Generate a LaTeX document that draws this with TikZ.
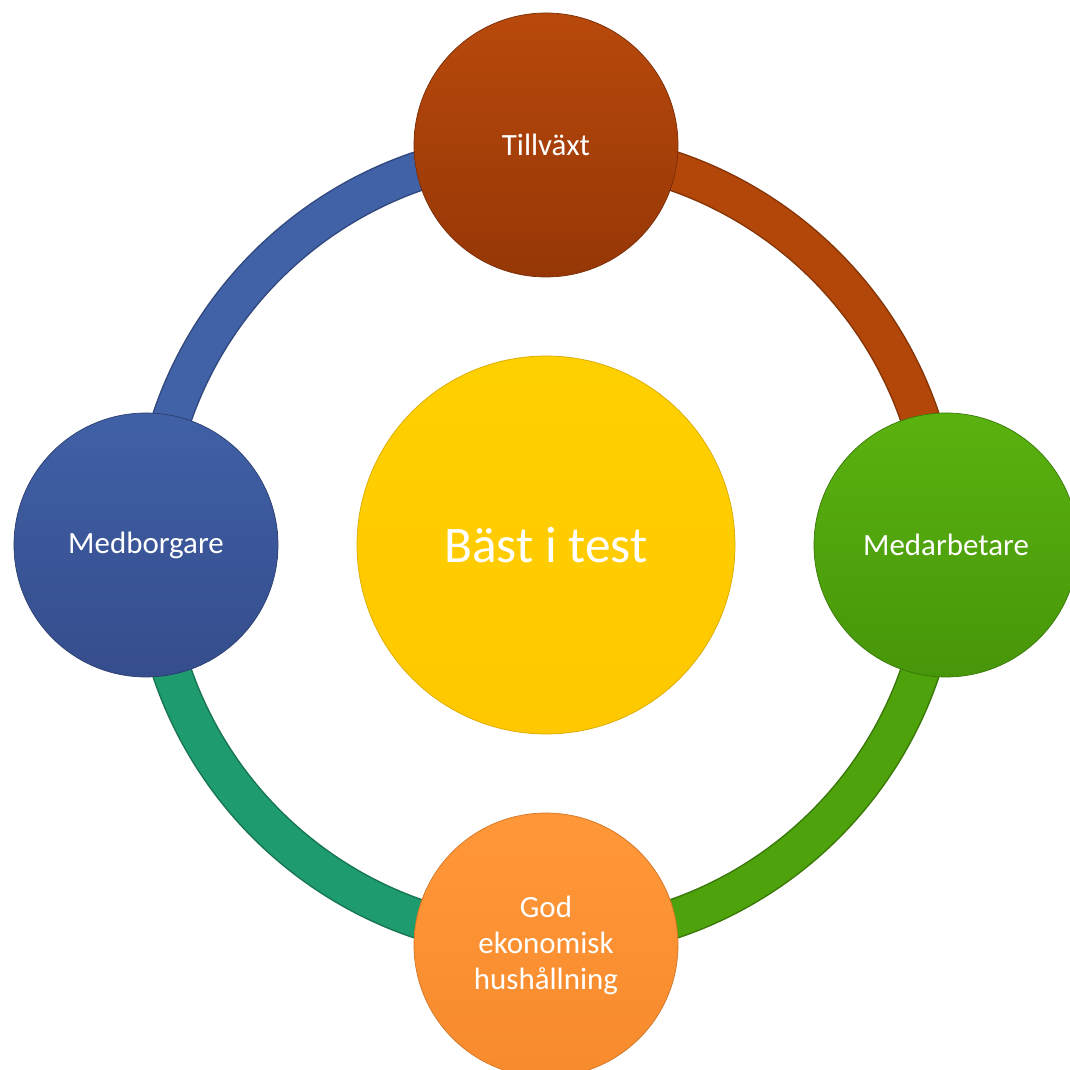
\documentclass[tikz,border=0pt]{standalone}
\usepackage{fontspec}
\setmainfont{Carlito}
\usepackage{xcolor}
\usepackage{tikz}
\usetikzlibrary{backgrounds}

\definecolor{brunTop}{HTML}{B8490B}
\definecolor{brunBot}{HTML}{963707}
\definecolor{blaTop}{HTML}{4060A6}
\definecolor{blaBot}{HTML}{354D8C}
\definecolor{gronTop}{HTML}{5AB20F}
\definecolor{gronBot}{HTML}{47960A}
\definecolor{oranTop}{HTML}{FF9738}
\definecolor{oranBot}{HTML}{F78B2E}
\definecolor{gulTop}{HTML}{FFD000}
\definecolor{gulBot}{HTML}{FFC800}
\definecolor{ringBla}{HTML}{4262A8}
\definecolor{ringBrun}{HTML}{B3470A}
\definecolor{ringGron}{HTML}{4EA20C}
\definecolor{ringTeal}{HTML}{1F9C6E}

\begin{document}
\begin{tikzpicture}[
    boll/.style={circle, minimum size=5.28cm, inner sep=0pt, text=white,
        align=center, font=\fontsize{17.6}{20.5}\selectfont},
    ring/.style={line width=0.74cm},
    ringkant/.style={line width=0.80cm}
]
    \useasboundingbox (-10.92,-10.5) rectangle (10.48,10.9);

    \node[boll, top color=gulTop, bottom color=gulBot, draw=gulBot!85!black,
        minimum size=7.56cm, font=\fontsize{29.2}{34}\selectfont] (bast) at (0,0) {Bäst i test};

    \node[boll, top color=brunTop, bottom color=brunBot, draw=brunBot!80!black] (tillvaxt) at (0,8) {Tillväxt};
    \node[boll, top color=gronTop, bottom color=gronBot, draw=gronBot!80!black] (medarb) at (8,0) {Medarbetare};
    \node[boll, top color=oranTop, bottom color=oranBot, draw=oranBot!85!black] (ekonomi) at (0,-8) {God\\ekonomisk\\hushållning};
    \node[boll, top color=blaTop, bottom color=blaBot, draw=blaBot!80!black] (medborg) at (-8,0) {Medborgare};

    \begin{scope}[on background layer]
    \draw[ringkant, ringBrun!75!black] (tillvaxt.center) ++(0,-0.1) arc[start angle=90, end angle=0, radius=7.9cm];
    \draw[ring, ringBrun] (tillvaxt.center) ++(0,-0.1) arc[start angle=90, end angle=0, radius=7.9cm];
    \draw[ringkant, ringGron!75!black] (medarb.center) ++(-0.1,0) arc[start angle=0, end angle=-90, radius=7.9cm];
    \draw[ring, ringGron] (medarb.center) ++(-0.1,0) arc[start angle=0, end angle=-90, radius=7.9cm];
    \draw[ringkant, ringTeal!75!black] (ekonomi.center) ++(0,0.1) arc[start angle=-90, end angle=-180, radius=7.9cm];
    \draw[ring, ringTeal] (ekonomi.center) ++(0,0.1) arc[start angle=-90, end angle=-180, radius=7.9cm];
    \draw[ringkant, ringBla!75!black] (medborg.center) ++(0.1,0) arc[start angle=180, end angle=90, radius=7.9cm];
    \draw[ring, ringBla] (medborg.center) ++(0.1,0) arc[start angle=180, end angle=90, radius=7.9cm];
    \end{scope}

\end{tikzpicture}
\end{document}
